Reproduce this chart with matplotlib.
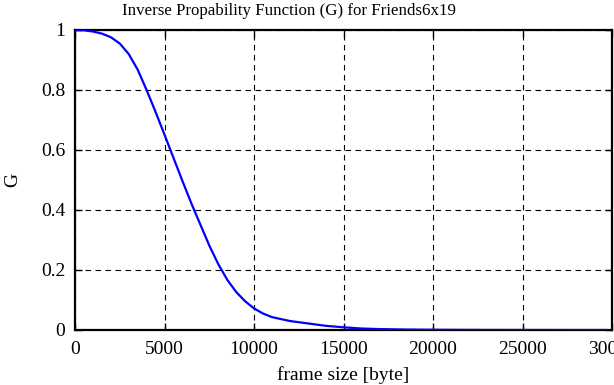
import matplotlib
matplotlib.use("Agg")
import matplotlib.pyplot as plt

# nilai yang dibaca dari grafik referensi
frame_size = [0, 500, 1000, 1500, 2000, 2500, 3000, 3500, 4000, 4500, 5000,
              5500, 6000, 6500, 7000, 7500, 8000, 8500, 9000, 9500, 10000,
              10500, 11000, 12000, 13000, 14000, 15000, 16000, 17000, 18500,
              20000, 22500, 25000, 27500, 29700]
g_value = [1.0, 0.999, 0.995, 0.988, 0.976, 0.955, 0.92, 0.868, 0.80, 0.727,
           0.651, 0.574, 0.497, 0.422, 0.352, 0.282, 0.220, 0.168, 0.127,
           0.096, 0.072, 0.055, 0.043, 0.030, 0.022, 0.014, 0.009, 0.005,
           0.003, 0.0015, 0.0008, 0.0003, 0.0001, 0.0, 0.0]

x_ticks = [0, 5000, 10000, 15000, 20000, 25000, 30000]
y_ticks = [0, 0.2, 0.4, 0.6, 0.8, 1]
y_tick_labels = ["0", "0.2", "0.4", "0.6", "0.8", "1"]

plt.rcParams['font.family'] = ['Liberation Serif', 'DejaVu Serif']
plt.rcParams['font.size'] = 14

fig = plt.figure(figsize=(6.14, 3.85), dpi=100)
ax = fig.add_axes([75 / 614, 55 / 385, 537 / 614, 300 / 385])

ax.plot(frame_size, g_value, color='#0000ff', linewidth=1.6, zorder=3)

ax.set_xlim(0, 30000)
ax.set_ylim(0, 1)
ax.set_xticks(x_ticks)
ax.set_yticks(y_ticks)
ax.set_yticklabels(y_tick_labels)
ax.grid(True, color='black', linestyle=(0, (5, 4)), linewidth=0.8)
ax.tick_params(direction='in', length=5, width=1, top=True, right=True,
               labelsize=14)
ax.tick_params(axis='x', pad=8)
ax.tick_params(axis='y', pad=7)
for s in ax.spines.values():
    s.set_linewidth(1.6)

# judul di tengah kanvas asli (bukan tengah sumbu)
ax.set_title("Inverse Propability Function (G) for Friends6x19", fontsize=12.2,
             x=(289 - 75) / 537, pad=11)
ax.set_xlabel("frame size [byte]", fontsize=14, labelpad=6)
ax.set_ylabel("G", fontsize=14, labelpad=14)

fig.savefig("out.png", dpi=100)
